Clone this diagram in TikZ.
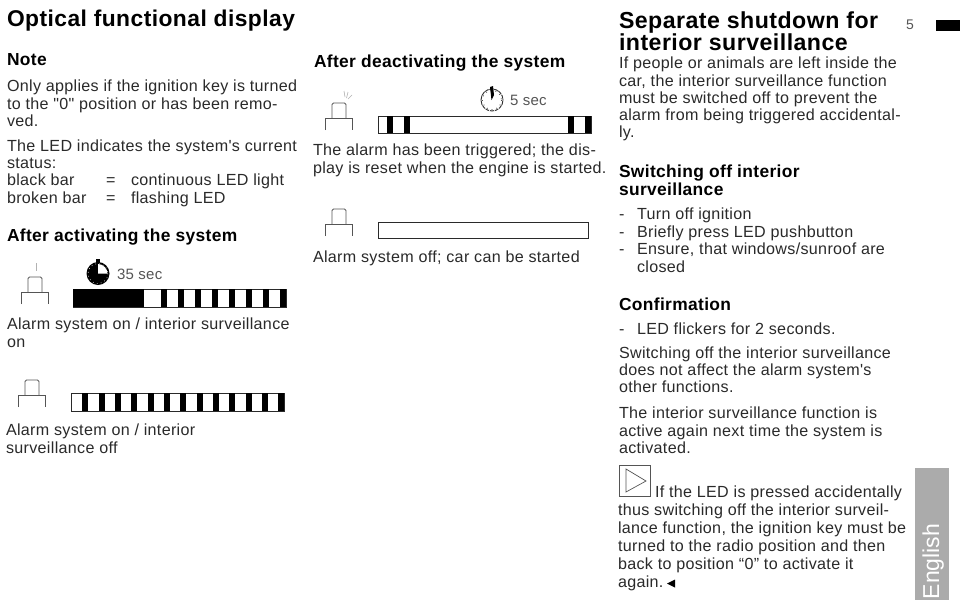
\documentclass[tikz,border=0pt]{standalone}
\usepackage{fontspec}
\setmainfont{Liberation Sans}
\newfontfamily\rawf[LetterSpace=2]{Liberation Sans}
\newfontfamily\rawg{Liberation Sans}
\definecolor{ink}{HTML}{2A2A2A}
\definecolor{soft}{HTML}{555555}
\definecolor{tab}{HTML}{ABABAB}
\tikzset{
  x=1pt,y=-1pt,
  body/.style={anchor=base west,inner sep=0pt,outer sep=0pt,text=ink,font=\rawf\fontsize{16.1}{18}\selectfont},
  head/.style={body,text=black,font=\rawf\fontsize{17.4}{18}\selectfont\bfseries},
  title/.style={body,text=black,font=\rawf\fontsize{22.8}{24}\selectfont\bfseries},
  titleb/.style={body,text=black,font=\rawf\fontsize{23.15}{24}\selectfont\bfseries},
  small/.style={body,text=soft,font=\rawf\fontsize{15}{16}\selectfont},
  barbox/.style={draw=ink,line width=0.9pt,fill=white},
  btn/.style={draw=soft,line width=0.9pt},
  ray/.style={draw=gray!60,line width=0.6pt}
}
\newcommand{\btnicon}[2]{% x left, y shoulder
  \draw[btn] (#1,#2+12) -- (#1,#2) -- (#1+27,#2) -- (#1+27,#2+12);
  \draw[btn,rounded corners=1.5pt] (#1+7,#2) -- (#1+7,#2-15) -- (#1+21,#2-15) -- (#1+21,#2);
}
\begin{document}
\begin{tikzpicture}
\useasboundingbox (0,0) rectangle (969,600);
\fill[white] (0,0) rectangle (969,600);

% column 1
\node[title] (t1) at (7,26) {Optical functional display};
\node[head] (n1) at (7,65) {Note};
\node[body] (a1) at (7,91) {Only applies if the ignition key is turned};
\node[body] (a2) at (7,109) {to the "0" position or has been remo-};
\node[body] (a3) at (7,126) {ved.};
\node[body] (a4) at (7,151) {The LED indicates the system's current};
\node[body] (a5) at (7,168) {status:};
\node[body] (a6) at (7,185) {black bar};
\node[body] (a7) at (106,185) {=};
\node[body] (a8) at (131,185) {continuous LED light};
\node[body] (a9) at (7,203) {broken bar};
\node[body] (a10) at (106,203) {=};
\node[body] (a11) at (131,203) {flashing LED};
\node[head] (h1) at (7,241) {After activating the system};
\node[body] (a12) at (7,329) {Alarm system on / interior surveillance};
\node[body] (a13) at (7,347) {on};
\node[body] (a14) at (6,435) {Alarm system on / interior};
\node[body] (a15) at (6,453) {surveillance off};

% icons column 1
\draw[ray] (36,263) -- (36,271);
\btnicon{21}{292}
\draw[barbox] (73,289) rectangle (286,307);
\fill[black] (73,289) rectangle (144,307);
\foreach \s in {161,178,195,212,229,246,263,280} \fill[black] (\s,289) rectangle (\s+6.3,307);

\fill[black] (98,273.5) circle (11.5);
\fill[black] (96,259) rectangle (100,263);
\fill[white] (98,273.5) -- (98,264) .. controls (103,264) and (107.5,268.5) .. (107.5,273.5) -- cycle;
\draw[white,line width=0.5pt,dash pattern=on 0.8pt off 3.2pt] (98,273.5) circle (10);
\node[small] (s35) at (117,279) {35 sec};

\btnicon{18}{395}
\draw[barbox] (71,393) rectangle (284,411);
\foreach \s in {82.3,98.7,115,131.3,147.7,164,180.3,196.7,213,229.3,245.7,262,278.3} \fill[black] (\s,393) rectangle (\s+6,411);

% column 2
\node[head] (h2) at (314,67) {After deactivating the system};
\node[body] (b1) at (313,155) {The alarm has been triggered; the dis-};
\node[body] (b2) at (313,173) {play is reset when the engine is started.};
\node[body] (b3) at (313,262) {Alarm system off; car can be started};

\btnicon{325}{118}
\draw[ray] (344,91) -- (345,97) (348,92) -- (346.5,98) (352,95) -- (348,99);
\draw[barbox] (378,116) rectangle (591,133);
\foreach \s in {387,404,568,585} \fill[black] (\s,116) rectangle (\s+6.3,133);

\draw[ink,line width=0.9pt] (492,100) circle (11);
\draw[white,line width=0.6pt,dash pattern=on 0.8pt off 4pt] (492,100) circle (11);
\draw[ink,line width=0.6pt,dash pattern=on 0.8pt off 4pt] (492,100) circle (9.5);
\fill[black] (490,87) -- (493,86) -- (494,95) -- (491.5,100) -- cycle;
\node[small] (s5) at (510,105) {5 sec};

\btnicon{325}{224}
\draw[barbox] (378,222) rectangle (588,238);

% column 3
\node[titleb] (t2) at (619,28) {Separate shutdown for};
\node[titleb] (t3) at (619,50) {interior surveillance};
\node[small,font=\rawf\fontsize{14}{16}\selectfont] (pg) at (906,29) {5};
\fill[black] (936,19.5) rectangle (960,31);

\node[body] (c1) at (619,68) {If people or animals are left inside the};
\node[body] (c2) at (619,86) {car, the interior surveillance function};
\node[body] (c3) at (619,103) {must be switched off to prevent the};
\node[body] (c4) at (619,120) {alarm from being triggered accidental-};
\node[body] (c5) at (619,137) {ly.};
\node[head] (h3) at (619,177) {Switching off interior};
\node[head] (h4) at (619,195) {surveillance};
\node[body] (d1) at (619,219) {-};
\node[body] (d2) at (637,219) {Turn off ignition};
\node[body] (d3) at (619,237) {-};
\node[body] (d4) at (637,237) {Briefly press LED pushbutton};
\node[body] (d5) at (619,254) {-};
\node[body] (d6) at (637,254) {Ensure, that windows/sunroof are};
\node[body] (d7) at (637,272) {closed};
\node[head] (h5) at (619,310) {Confirmation};
\node[body] (e1) at (619,334) {-};
\node[body] (e2) at (637,334) {LED flickers for 2 seconds.};
\node[body] (e3) at (619,358) {Switching off the interior surveillance};
\node[body] (e4) at (619,375) {does not affect the alarm system's};
\node[body] (e5) at (619,392) {other functions.};
\node[body] (e6) at (619,418) {The interior surveillance function is};
\node[body] (e7) at (619,436) {active again next time the system is};
\node[body] (e8) at (619,453) {activated.};

\draw[soft,line width=0.8pt] (619,465) rectangle (650,496);
\draw[soft,line width=0.7pt] (626,469) -- (646,481) -- (626,492) -- cycle;
\node[body] (f1) at (655,497) {If the LED is pressed accidentally};
\node[body] (f2) at (618,515) {thus switching off the interior surveil-};
\node[body] (f3) at (618,533) {lance function, the ignition key must be};
\node[body] (f4) at (618,551) {turned to the radio position and then};
\node[body] (f5) at (618,569) {back to position “0” to activate it};
\node[body] (f6) at (618,587) {again.};
\fill[black] (667,583.5) -- (675,579.5) -- (675,587.5) -- cycle;

% tab
\fill[tab] (915,468) rectangle (949,600);
\node[anchor=base west,inner sep=0pt,rotate=90,text=white,font=\rawg\fontsize{23}{24}\selectfont] (en) at (939,599.5) {English};
\end{tikzpicture}
\end{document}
